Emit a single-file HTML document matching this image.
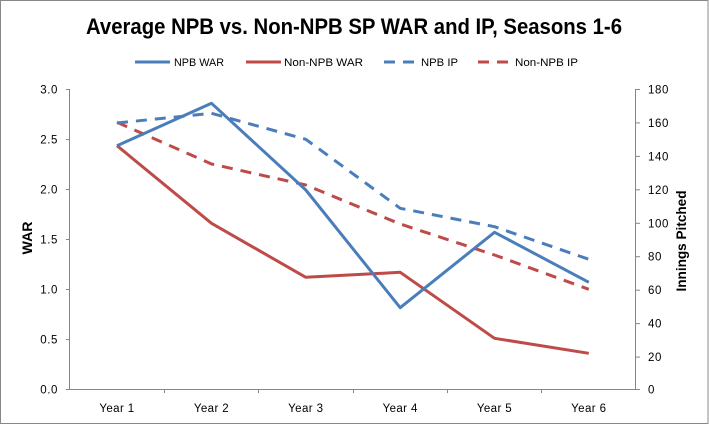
<!DOCTYPE html>
<html><head><meta charset="utf-8"><style>
html,body{margin:0;padding:0;background:#fff;}
svg{display:block;}
text{font-family:"Liberation Sans",Arial,sans-serif;fill:#000;}
</style></head><body>
<svg width="709" height="425" viewBox="0 0 709 425" xmlns="http://www.w3.org/2000/svg">
<rect x="0" y="0" width="709" height="425" fill="#fff"/>
<rect x="0.5" y="0.5" width="707.5" height="423" fill="none" stroke="#888" stroke-width="1"/>
<text x="86" y="34" font-size="22" font-weight="bold" textLength="536" lengthAdjust="spacingAndGlyphs">Average NPB vs. Non-NPB SP WAR and IP, Seasons 1-6</text>
<g stroke-width="3" fill="none">
<line x1="135" y1="62" x2="170" y2="62" stroke="#4A7EBB"/>
<line x1="246" y1="62" x2="281" y2="62" stroke="#BE4B48"/>
<line x1="384" y1="62" x2="416" y2="62" stroke="#4A7EBB" stroke-dasharray="11,8"/>
<line x1="478" y1="62" x2="510" y2="62" stroke="#BE4B48" stroke-dasharray="11,8"/>
</g>
<g font-size="11">
<text x="174" y="66" textLength="50" lengthAdjust="spacingAndGlyphs">NPB WAR</text>
<text x="284" y="66" textLength="79" lengthAdjust="spacingAndGlyphs">Non-NPB WAR</text>
<text x="421" y="66" textLength="37" lengthAdjust="spacingAndGlyphs">NPB IP</text>
<text x="515" y="66" textLength="63" lengthAdjust="spacingAndGlyphs">Non-NPB IP</text>
</g>
<g stroke="#868686" stroke-width="1" fill="none">
<line x1="69.5" y1="89" x2="69.5" y2="390"/>
<line x1="635.5" y1="89" x2="635.5" y2="390"/>
<line x1="69.5" y1="389.5" x2="635.5" y2="389.5"/>
<line x1="66" y1="89.5" x2="70" y2="89.5"/>
<line x1="66" y1="139.5" x2="70" y2="139.5"/>
<line x1="66" y1="189.5" x2="70" y2="189.5"/>
<line x1="66" y1="239.5" x2="70" y2="239.5"/>
<line x1="66" y1="289.5" x2="70" y2="289.5"/>
<line x1="66" y1="339.5" x2="70" y2="339.5"/>
<line x1="66" y1="389.5" x2="70" y2="389.5"/>
<line x1="635" y1="89.5" x2="640" y2="89.5"/>
<line x1="635" y1="122.9" x2="640" y2="122.9"/>
<line x1="635" y1="156.4" x2="640" y2="156.4"/>
<line x1="635" y1="189.8" x2="640" y2="189.8"/>
<line x1="635" y1="223.3" x2="640" y2="223.3"/>
<line x1="635" y1="256.7" x2="640" y2="256.7"/>
<line x1="635" y1="290.2" x2="640" y2="290.2"/>
<line x1="635" y1="323.6" x2="640" y2="323.6"/>
<line x1="635" y1="357.1" x2="640" y2="357.1"/>
<line x1="635" y1="389.5" x2="640" y2="389.5"/>
<line x1="164.5" y1="389" x2="164.5" y2="393"/>
<line x1="258.5" y1="389" x2="258.5" y2="393"/>
<line x1="353.5" y1="389" x2="353.5" y2="393"/>
<line x1="447.5" y1="389" x2="447.5" y2="393"/>
<line x1="541.5" y1="389" x2="541.5" y2="393"/>
</g>
<g font-size="11.5" text-anchor="end" letter-spacing="0.6">
<text x="58" y="93.5">3.0</text>
<text x="58" y="143.5">2.5</text>
<text x="58" y="193.5">2.0</text>
<text x="58" y="243.5">1.5</text>
<text x="58" y="293.5">1.0</text>
<text x="58" y="343.5">0.5</text>
<text x="58" y="393.5">0.0</text>
</g>
<g font-size="11.5" letter-spacing="0.6">
<text x="648" y="93.5">180</text>
<text x="648" y="126.9">160</text>
<text x="648" y="160.4">140</text>
<text x="648" y="193.8">120</text>
<text x="648" y="227.3">100</text>
<text x="648" y="260.7">80</text>
<text x="648" y="294.2">60</text>
<text x="648" y="327.6">40</text>
<text x="648" y="361.1">20</text>
<text x="648" y="393.5">0</text>
</g>
<g font-size="11.5" text-anchor="middle" letter-spacing="0.4">
<text x="117" y="412">Year 1</text>
<text x="211.5" y="412">Year 2</text>
<text x="305.8" y="412">Year 3</text>
<text x="400.2" y="412">Year 4</text>
<text x="494.5" y="412">Year 5</text>
<text x="588.8" y="412">Year 6</text>
</g>
<text transform="translate(32,238) rotate(-90)" font-size="14" font-weight="bold" text-anchor="middle" textLength="33" lengthAdjust="spacingAndGlyphs">WAR</text>
<text transform="translate(686,241) rotate(-90)" font-size="14" font-weight="bold" text-anchor="middle" textLength="101" lengthAdjust="spacingAndGlyphs">Innings Pitched</text>
<g fill="none" stroke-width="3" stroke-linejoin="round">
<polyline stroke="#BE4B48" stroke-dasharray="11,8" points="117,122.3 211.5,164 305.8,185 400.2,224 494.5,255 588.8,289.3"/>
<polyline stroke="#4A7EBB" stroke-dasharray="11,8" points="117,123 211.5,113.3 305.8,139.3 400.2,208.3 494.5,226.7 588.8,259.3"/>
<polyline stroke="#BE4B48" points="117,145.7 211.5,223.3 305.8,277.3 400.2,272.3 494.5,338.3 588.8,353.3"/>
<polyline stroke="#4A7EBB" points="117,145.7 211.5,103.3 305.8,190 400.2,307.7 494.5,232.3 588.8,282.3"/>
</g>
</svg>
</body></html>
